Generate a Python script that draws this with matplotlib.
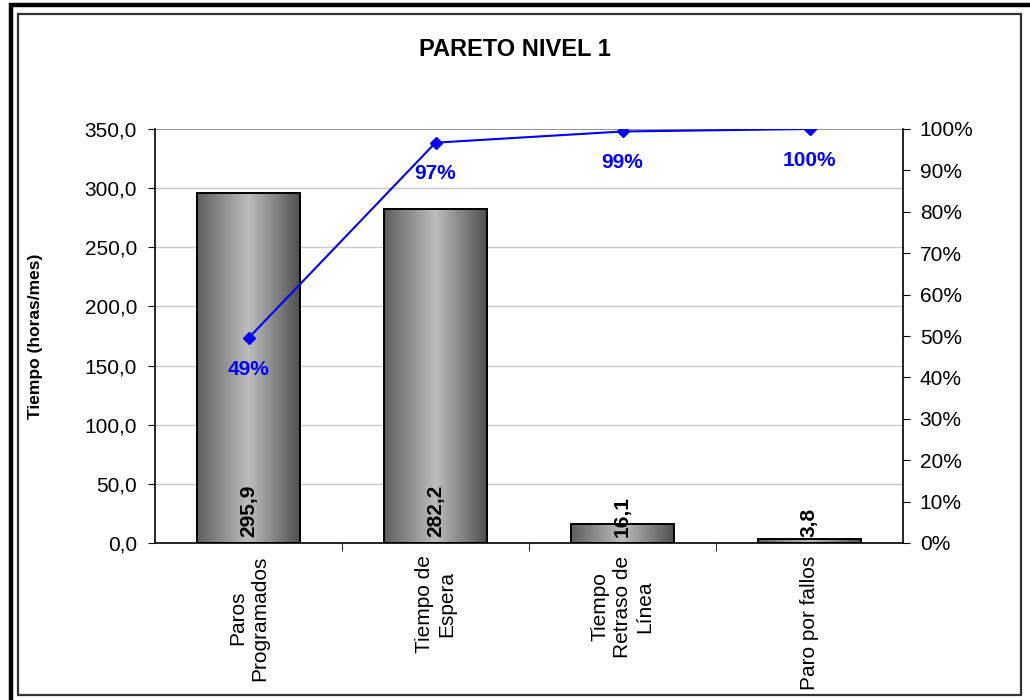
import numpy as np
import matplotlib
matplotlib.use("Agg")
import matplotlib.pyplot as plt
from matplotlib.patches import Rectangle
from matplotlib.colors import LinearSegmentedColormap

categories = ["Paros\nProgramados", "Tiempo de\nEspera", "Tiempo\nRetraso de\nLínea", "Paro por fallos"]
values = [295.9, 282.2, 16.1, 3.8]
value_labels = ["295,9", "282,2", "16,1", "3,8"]
cum_pct = [0.495, 0.967, 0.994, 1.0]
pct_labels = ["49%", "97%", "99%", "100%"]
left_ticks = [0, 50, 100, 150, 200, 250, 300, 350]
left_tick_labels = ["0,0", "50,0", "100,0", "150,0", "200,0", "250,0", "300,0", "350,0"]
right_ticks = [0, .1, .2, .3, .4, .5, .6, .7, .8, .9, 1.0]
right_tick_labels = ["0%", "10%", "20%", "30%", "40%", "50%", "60%", "70%", "80%", "90%", "100%"]

plt.rcParams['font.family'] = ['Liberation Sans', 'DejaVu Sans']

W, H = 1030, 700
fig = plt.figure(figsize=(W / 100, H / 100), dpi=100)

# borders
fig.patches.append(Rectangle((11 / W, -0.1), 1.2, 1 - 4.5 / H + 0.1, transform=fig.transFigure,
                             fill=False, edgecolor='black', linewidth=3.2))
fig.patches.append(Rectangle((18.5 / W, 5.5 / H), (1021 - 18.5) / W, (694 - 13.5) / H,
                             transform=fig.transFigure, fill=False, edgecolor='#333333', linewidth=1.6))

ax = fig.add_axes([155 / W, 1 - 543 / H, (903 - 155) / W, (543 - 129) / H])
ax.set_xlim(-0.5, 3.5)
ax.set_ylim(0, 350)

# gridlines
for t in left_ticks[1:]:
    ax.axhline(t, color='#808080' if t == 350 else '#c8c8c8', linewidth=1.2 if t == 350 else 1.0, zorder=0)

cmap = LinearSegmentedColormap.from_list('cyl', [(0, '#5e5e5e'), (0.5, '#bdbdbd'), (1, '#505050')])
grad = np.linspace(0, 1, 256).reshape(1, -1)
bw = 0.55
bars = ax.bar(range(len(values)), values, width=bw, color='none', edgecolor='black', linewidth=1.4, zorder=3)
for b in bars:
    x0, y0, w, h = b.get_x(), b.get_y(), b.get_width(), b.get_height()
    im = ax.imshow(grad, cmap=cmap, extent=[x0, x0 + w, y0, y0 + h], aspect='auto', zorder=2, interpolation='bilinear')
    im.set_clip_path(b)
ax.set_xlim(-0.5, 3.5)
ax.set_ylim(0, 350)

for i, lab in enumerate(value_labels):
    ax.annotate(lab, (i, 0), xytext=(0, 6), textcoords='offset pixels', rotation=90,
                ha='center', va='bottom', fontsize=15, fontweight='bold', color='black', zorder=5)

ax.set_yticks(left_ticks)
ax.set_yticklabels(left_tick_labels, fontsize=15)
ax.set_xticks(range(len(categories)))
ax.set_xticklabels(categories, rotation=90, fontsize=15, va='top', ha='center', multialignment='center')
ax.tick_params(axis='x', which='major', length=0, pad=9)
ax.set_xticks([0.5, 1.5, 2.5], minor=True)
ax.tick_params(axis='x', which='minor', length=6, direction='out', color='black')
ax.tick_params(axis='y', length=5, direction='out', pad=8, color='black')
for s in ['top', 'right']:
    ax.spines[s].set_visible(False)
ax.spines['left'].set_color('black')
ax.spines['bottom'].set_color('black')
ax.spines['left'].set_linewidth(1.2)
ax.spines['bottom'].set_linewidth(1.2)
ax.set_ylabel("Tiempo (horas/mes)", fontsize=12.5, fontweight='bold')
ax.yaxis.set_label_coords(-(155 - 43) / 748, 0.5)

ax2 = ax.twinx()
ax2.set_ylim(0, 1)
ax2.set_xlim(-0.5, 3.5)
ax2.plot(range(len(cum_pct)), cum_pct, color='#0000ff', linewidth=1.5, marker='D', markersize=6.5, zorder=6)
for i, (p, lab) in enumerate(zip(cum_pct, pct_labels)):
    ax2.annotate(lab, (i, p), xytext=(0, -31), textcoords='offset pixels', ha='center', va='center',
                 fontsize=15, fontweight='bold', color='#0000ff')
ax2.set_yticks(right_ticks)
ax2.set_yticklabels(right_tick_labels, fontsize=15)
ax2.tick_params(axis='y', length=5, direction='out', pad=7, color='black')
for s in ['top', 'left', 'bottom']:
    ax2.spines[s].set_visible(False)
ax2.spines['right'].set_color('black')
ax2.spines['right'].set_linewidth(1.2)

fig.text(515 / W, 1 - 49 / H, "PARETO NIVEL 1", ha='center', va='center', fontsize=17, fontweight='bold')

fig.savefig("out.png", dpi=100)
